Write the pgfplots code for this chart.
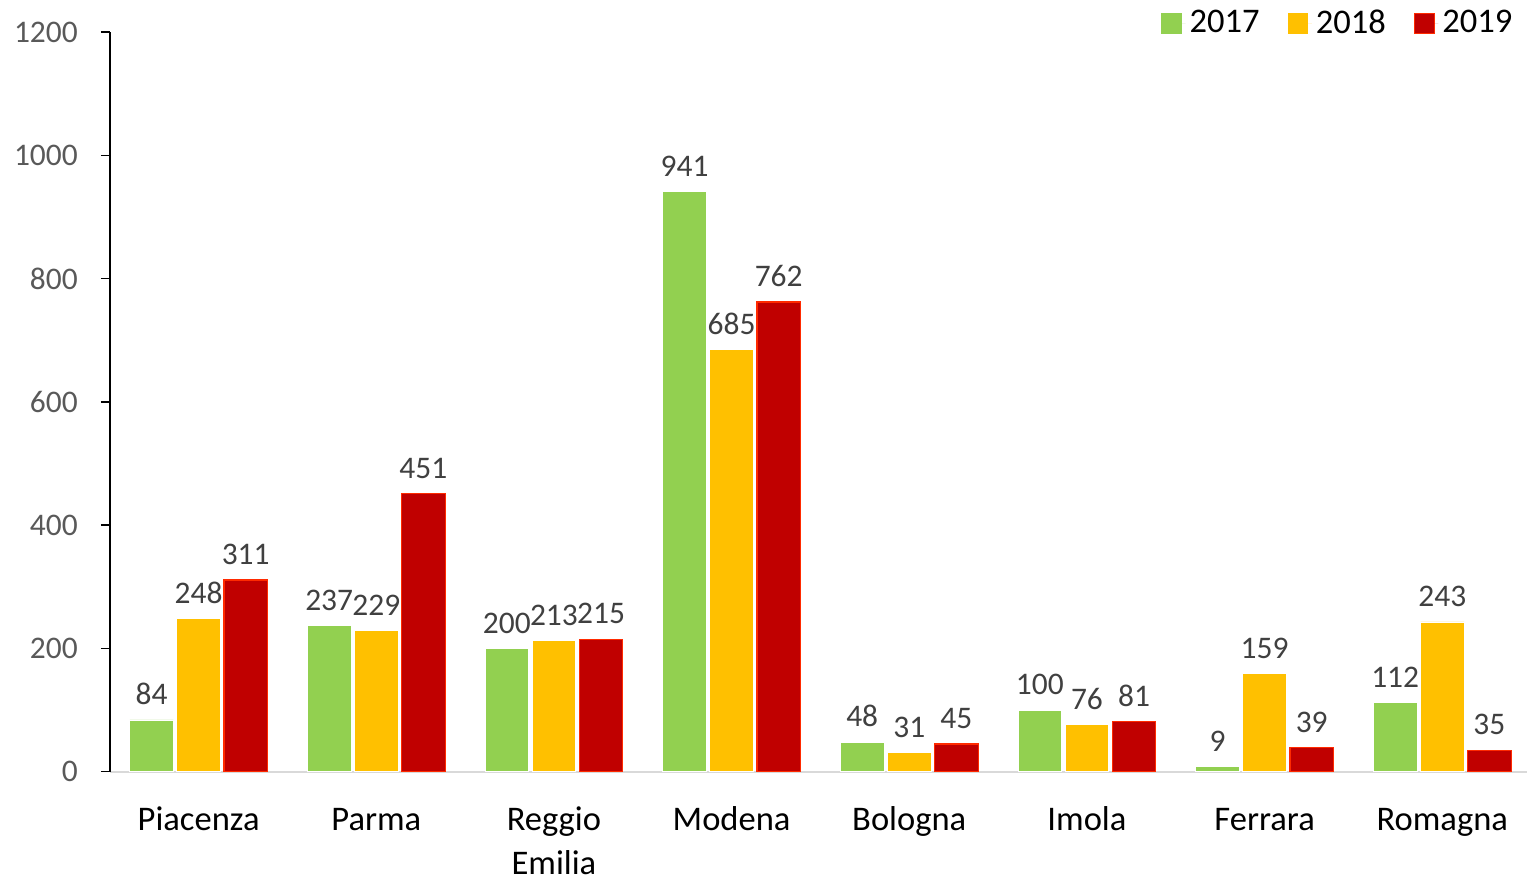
\documentclass[border=0pt]{standalone}
\usepackage{fontspec}
\setmainfont{Carlito}
\usepackage{pgfplots}
\pgfplotsset{compat=1.18}
\definecolor{cgreen}{HTML}{92D050}
\definecolor{cyellow}{HTML}{FFC000}
\definecolor{cred}{HTML}{C00000}
\definecolor{cborder}{HTML}{FF2A00}
\definecolor{ctick}{HTML}{595959}
\definecolor{clabel}{HTML}{404040}
\definecolor{caxis}{HTML}{D9D9D9}

\begin{document}
\begin{tikzpicture}
\begin{axis}[
    scale only axis,
    width=710pt, height=370.5pt,
    xmin=-0.5, xmax=7.477,
    ymin=0, ymax=1200,
    ytick={0,200,...,1200},
    xtick={0,...,7},
    xticklabels={\strut Piacenza,\strut Parma,{\strut Reggio\\Emilia\rule[-2pt]{0pt}{2pt}},\strut Modena,\strut Bologna,\strut Imola,\strut Ferrara,\strut Romagna},
    axis x line*=bottom,
    axis y line*=left,
    x axis line style={caxis, line width=1pt, -},
    y axis line style={black, line width=0.8pt, -},
    xtick style={draw=none},
    ytick style={black, line width=0.8pt},
    ytick align=outside,
    major tick length=4.5pt,
    /pgf/number format/assume math mode=true,
    /pgf/number format/1000 sep={},
    yticklabel style={color=ctick, font=\fontsize{15.75}{18}\selectfont, xshift=-8pt},
    xticklabel style={align=center, font=\fontsize{17.3}{22}\selectfont, yshift=-6pt},
    ybar,
    bar width=0.245,
    nodes near coords,
    every node near coord/.append style={color=clabel, font=\fontsize{15.75}{18}\selectfont, yshift=4pt},
    legend style={draw=none, fill=none, legend columns=3, at={(0.997,1.012)}, anchor=east,
        font=\fontsize{17.3}{20}\selectfont, inner sep=3pt,
        /tikz/every even column/.append style={column sep=12pt}},
    legend cell align=left,
]

\addplot[fill=cgreen, draw=white, line width=0.4pt, bar shift=-0.265,
    legend image code/.code={\fill[cgreen] (0pt,-5pt) rectangle (10pt,5pt); \path[draw=none] (0pt,0pt) -- (12pt,0pt);}]
    coordinates {(0,84) (1,237) (2,200) (3,941) (4,48) (5,100) (6,9) (7,112)};
\addlegendentry{2017}

\addplot[fill=cyellow, draw=white, line width=0.4pt, bar shift=0,
    legend image code/.code={\fill[cyellow] (0pt,-5pt) rectangle (10pt,5pt); \path[draw=none] (0pt,0pt) -- (12pt,0pt);}]
    coordinates {(0,248) (1,229) (2,213) (3,685) (4,31) (5,76) (6,159) (7,243)};
\addlegendentry{2018}

\addplot[fill=cred, draw=cborder, line width=0.6pt, bar shift=0.265,
    legend image code/.code={\filldraw[fill=cred, draw=cborder, line width=0.6pt] (0pt,-5pt) rectangle (10pt,5pt); \path[draw=none] (0pt,0pt) -- (12pt,0pt);}]
    coordinates {(0,311) (1,451) (2,215) (3,762) (4,45) (5,81) (6,39) (7,35)};
\addlegendentry{2019}

\end{axis}
\path (current axis.south west) ++(-55pt,0pt);
\end{tikzpicture}
\end{document}
